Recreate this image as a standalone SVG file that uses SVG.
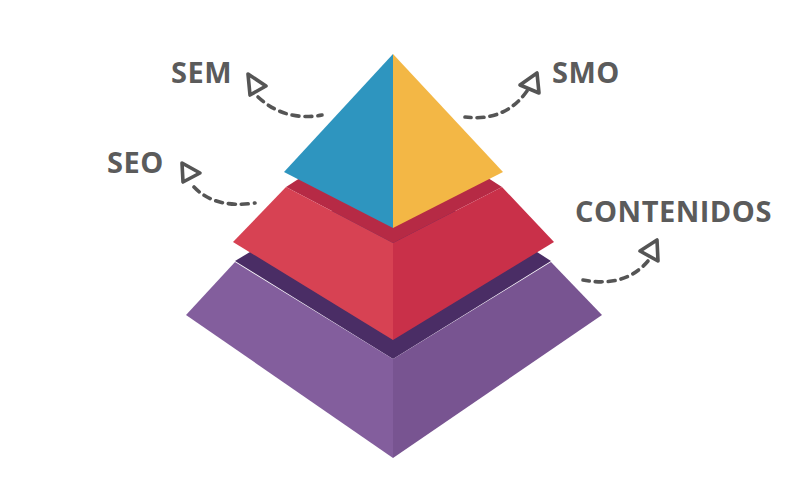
<svg xmlns="http://www.w3.org/2000/svg" width="787" height="487" viewBox="0 0 787 487">
<style>
.lbl{font-family:"Open Sans","Liberation Sans",sans-serif;font-weight:bold;font-size:29px;letter-spacing:0.5px;fill:#5b5b5b}
.dash{fill:none;stroke:#555;stroke-width:3.6;stroke-dasharray:7 6;stroke-linecap:round}
.head{fill:#fff;stroke:#555;stroke-width:3.6;stroke-linejoin:round}
</style>
<rect width="787" height="487" fill="#fff"/>
<g id="contenidos-layer">
<polygon points="235,261 250,252 393,180 537,252 551,261 393,359" fill="#4a2d65"/>
<polygon points="235,262 186,315 393,458 393,359" fill="#835e9d"/>
<polygon points="551,262 602,315 393,458 393,359" fill="#785491"/>
</g>
<g id="seo-layer">
<polygon points="286,187 300,178 393,140 488,178 502,187 393,243" fill="#b62a45"/>
<polygon points="286,187 233,242 393,340 393,243" fill="#d74253"/>
<polygon points="502,187 554,242 393,340 393,243" fill="#c93049"/>
</g>
<g id="top">
<polygon points="393,54 284,172 393,228" fill="#2e95bf"/>
<polygon points="393,54 503,172 393,228" fill="#f3b745"/>
</g>
<g id="connectors">
<path class="dash" d="M258,97 Q285,122 322,115"/>
<polygon class="head" points="248,74 266,86 250,95"/>
<path class="dash" d="M527,91 Q505,122 465,117"/>
<polygon class="head" points="537,73 539,93 520,85"/>
<path class="dash" d="M194,187 Q215,209 255,203"/>
<polygon class="head" points="182,163 200,173 183,182"/>
<path class="dash" d="M648,261 Q625,288 583,280"/>
<polygon class="head" points="657,240 658,261 640,251"/>
</g>
<g id="labels">
<text class="lbl" x="171" y="83">SEM</text>
<text class="lbl" x="552" y="83">SMO</text>
<text class="lbl" x="107" y="173">SEO</text>
<text class="lbl" x="575" y="222">CONTENIDOS</text>
</g>
</svg>
